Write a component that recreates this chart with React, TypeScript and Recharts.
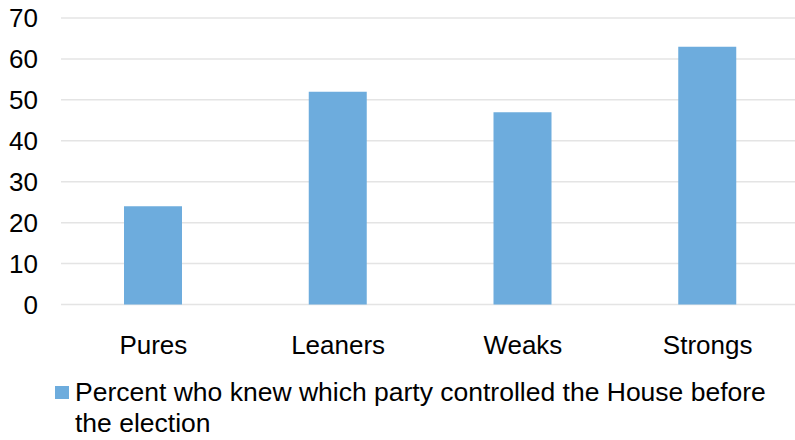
import React from 'react'
import { BarChart, Bar, XAxis, YAxis, CartesianGrid, Legend } from 'recharts'

// categories and values
const GROUPS = ['Pures', 'Leaners', 'Weaks', 'Strongs']
const KNEW_PCT = [24, 52, 47, 63]
const Y_TICKS = [0, 10, 20, 30, 40, 50, 60, 70]
const SERIES_NAME = 'Percent who knew which party controlled the House before the election'

const BAR_COLOR = '#6DACDD'
const FONT = '"Liberation Sans", Arial, sans-serif'

const data = GROUPS.map((name, i) => ({ name, value: KNEW_PCT[i] }))

// legend as html so the long label wraps like the original
const LegendBox = () => (
  <div style={{ display: 'flex', alignItems: 'flex-start', fontFamily: FONT, fontSize: 26.5, lineHeight: '31px', color: '#000' }}>
    <span style={{ display: 'inline-block', width: 14, height: 13, background: BAR_COLOR, marginTop: 9, flexShrink: 0 }} />
    <span style={{ marginLeft: 6, width: 695 }}>{SERIES_NAME}</span>
  </div>
)

export default function App() {
  return (
    <div style={{ position: 'absolute', left: 0, top: 0, width: 795, height: 440, overflow: 'hidden', background: '#fff' }}>
      <BarChart width={800} height={440} data={data} margin={{ top: 18, right: 0, left: 0, bottom: 0 }}>
        <CartesianGrid vertical={false} stroke="#e4e4e4" strokeWidth={1.5} />
        <XAxis
          dataKey="name"
          height={135.5}
          axisLine={false}
          tickLine={false}
          tickSize={0}
          tickMargin={31}
          tick={{ fill: '#000', fontSize: 26, fontFamily: FONT }}
        />
        <YAxis
          width={61}
          domain={[0, 70]}
          ticks={Y_TICKS}
          axisLine={false}
          tickLine={false}
          tickSize={0}
          tickMargin={23}
          tick={{ fill: '#000', fontSize: 26, fontFamily: FONT }}
        />
        <Legend
          layout="horizontal"
          verticalAlign="middle"
          align="center"
          wrapperStyle={{ top: 377, left: 55, width: 730 }}
          content={() => <LegendBox />}
        />
        <Bar dataKey="value" name={SERIES_NAME} fill={BAR_COLOR} barSize={58} isAnimationActive={false} />
      </BarChart>
    </div>
  )
}
